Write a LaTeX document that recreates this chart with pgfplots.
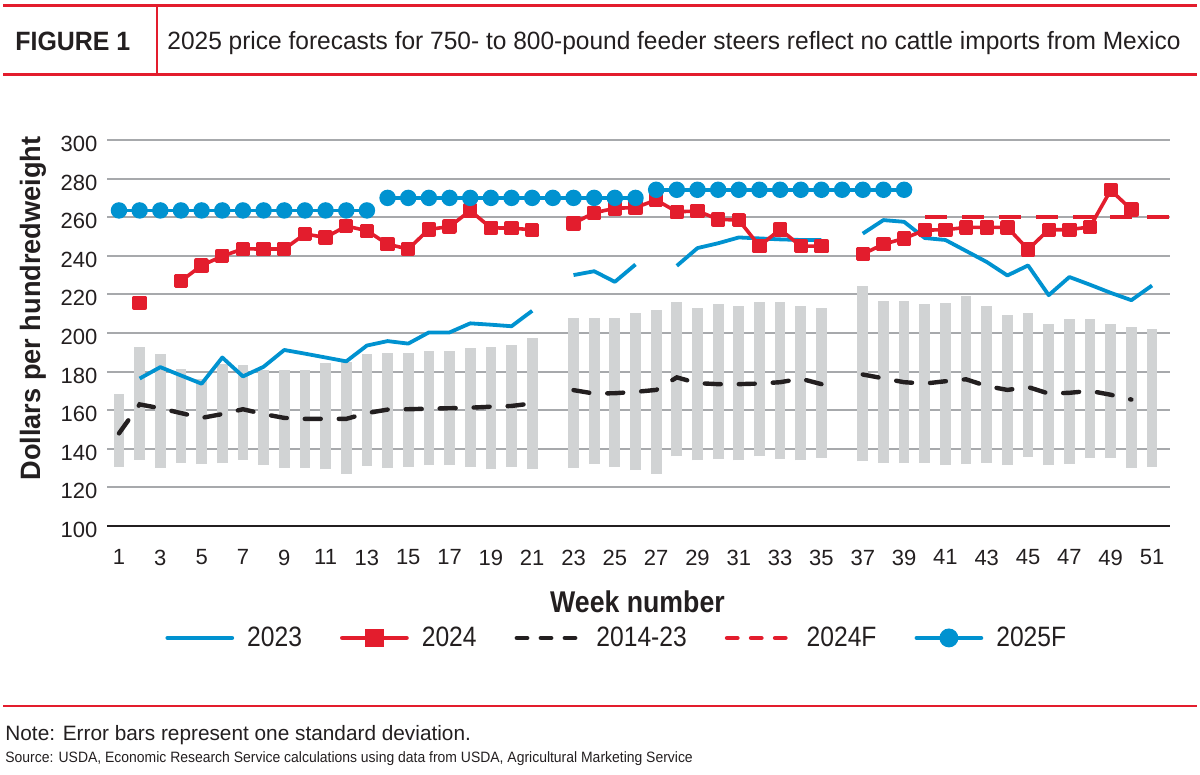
\documentclass[border=0pt]{standalone}
\usepackage{pgfplots}
\usepackage{pgfplotstable}
\pgfplotsset{compat=1.18}
\usepackage{fontspec}
\setmainfont{Liberation Sans}
\newfontfamily\legfont[FakeStretch=0.88]{Liberation Sans}
\newfontfamily\boldcondY[FakeStretch=0.97]{Liberation Sans Bold}
\newfontfamily\boldcondX[FakeStretch=0.89]{Liberation Sans Bold}
\newfontfamily\figfont[FakeStretch=0.94]{Liberation Sans Bold}
\newfontfamily\titlefont[FakeStretch=0.98]{Liberation Sans}
\newfontfamily\srcfont[FakeStretch=0.93]{Liberation Sans}

\definecolor{cblue}{HTML}{0092D0}
\definecolor{cred}{HTML}{E31D2D}
\definecolor{cgray}{HTML}{D1D3D4}
\definecolor{cgrid}{HTML}{A7A9AC}
\definecolor{ctext}{HTML}{231F20}

% error bars: week, low, high
\pgfplotstableread{
w lo hi
1 130.6 168.6
2 134.4 192.5
3 130.3 189.0
4 132.8 181.6
5 132.0 176.0
6 132.5 184.0
7 134.2 183.3
8 131.7 180.7
9 130.3 180.7
10 130.3 180.7
11 129.3 184.2
12 127.1 185.0
13 131.1 189.0
14 130.1 189.7
15 130.6 189.7
16 131.5 190.7
17 131.5 190.7
18 130.6 192.0
19 129.4 192.8
20 130.6 194.0
21 129.4 197.5
23 130.1 208.0
24 132.0 208.0
25 130.6 208.0
26 128.9 210.5
27 127.1 211.8
28 136.1 216.0
29 134.0 213.2
30 134.6 214.8
31 134.0 214.1
32 136.1 216.0
33 134.6 216.0
34 134.0 214.1
35 135.4 212.7
37 133.5 224.3
38 132.8 216.5
39 132.6 216.5
40 132.8 214.9
41 131.5 215.7
42 132.0 219.2
43 132.7 213.9
44 131.5 209.2
45 135.8 210.1
46 131.5 204.9
47 132.3 207.0
48 135.0 207.0
49 135.0 204.9
50 130.1 203.2
51 130.6 202.3
}\bars

\pgfplotstableread{
w v
1 148.0
2 163.0
3 161.0
4 158.5
5 156.0
6 158.0
7 160.5
8 158.0
9 156.0
10 155.5
11 155.5
12 155.5
13 158.5
14 160.3
15 160.5
16 160.8
17 161.0
18 161.3
19 161.8
20 162.2
21 163.5
22 nan
23 170.4
24 168.6
25 168.8
26 169.5
27 170.5
28 177.0
29 174.0
30 173.5
31 173.5
32 173.8
33 174.5
34 176.3
35 173.5
36 nan
37 178.5
38 176.5
39 174.5
40 173.8
41 175.0
42 176.0
43 172.5
44 170.5
45 172.0
46 168.6
47 169.0
48 170.0
49 168.0
50 165.5
}\avg

\pgfplotstableread{
w v
2 176.4
3 182.3
4 178.0
5 173.7
6 187.3
7 177.5
8 182.5
9 191.2
10 189.3
11 187.3
12 185.3
13 193.5
14 195.8
15 194.5
16 200.3
17 200.3
18 205.0
19 204.3
20 203.5
21 211.5
22 nan
23 230.0
24 232.0
25 226.5
26 235.5
27 nan
28 234.8
29 244.0
30 246.5
31 249.5
32 249.0
33 248.5
34 248.2
35 248.2
36 nan
37 251.5
38 258.5
39 257.6
40 249.2
41 248.2
42 242.5
43 236.8
44 229.8
45 235.0
46 219.6
47 229.0
48 225.0
49 220.8
50 217.0
51 224.6
}\yrA

\pgfplotstableread{
w v
2 215.6
3 nan
4 226.9
5 235.0
6 239.8
7 243.6
8 243.5
9 243.5
10 251.3
11 249.5
12 255.4
13 253.0
14 246.0
15 243.5
16 253.7
17 255.1
18 263.4
19 254.5
20 254.3
21 253.5
22 nan
23 256.8
24 262.3
25 264.6
26 265.0
27 268.9
28 262.8
29 263.2
30 258.9
31 258.5
32 245.0
33 253.7
34 245.0
35 245.0
36 nan
37 240.9
38 246.0
39 249.0
40 253.3
41 253.5
42 254.7
43 254.7
44 254.7
45 243.3
46 253.5
47 253.5
48 255.0
49 274.0
50 264.0
}\yrB

\pgfplotstableread{
w v
40 260
52 260
}\fcB

\pgfplotstableread{
w v
1 263.5
2 263.5
3 263.5
4 263.5
5 263.5
6 263.5
7 263.5
8 263.5
9 263.5
10 263.5
11 263.5
12 263.5
13 263.5
13.5 nan
14 270.0
15 270.0
16 270.0
17 270.0
18 270.0
19 270.0
20 270.0
21 270.0
22 270.0
23 270.0
24 270.0
25 270.0
26 270.0
26.5 nan
27 274.2
28 274.2
29 274.2
30 274.2
31 274.2
32 274.2
33 274.2
34 274.2
35 274.2
36 274.2
37 274.2
38 274.2
39 274.2
}\fcC

\begin{document}
\begin{tikzpicture}
\path[use as bounding box] (0,0) rectangle (600pt,387.5pt);
% header
\draw[cred, line width=1.5pt] (1.5pt,384.5pt) -- (598.5pt,384.5pt);
\draw[cred, line width=1.5pt] (1.5pt,350pt) -- (598.5pt,350pt);
\draw[cred, line width=0.6pt] (78.5pt,384.5pt) -- (78.5pt,350pt);
\node[anchor=base west, inner sep=0pt, text=ctext] at (7.5pt,362pt) {\figfont\fontsize{13.25}{15}\selectfont FIGURE 1};
\node[anchor=base west, inner sep=0pt, text=ctext] at (83.5pt,362.5pt) {\titlefont\fontsize{12.5}{15}\selectfont 2025 price forecasts for 750- to 800-pound feeder steers reflect no cattle imports from Mexico};

\begin{axis}[
  at={(53.5pt,124.5pt)}, anchor=south west,
  scale only axis, width=531.5pt, height=193pt,
  xmin=0.42, xmax=51.87, ymin=100, ymax=300,
  xtick={1,3,...,51}, ytick={100,120,...,300},
  axis x line*=bottom, axis y line*=left,
  x axis line style={draw=ctext, line width=1.4pt},
  y axis line style={draw=none},
  major tick length=0pt,
  ymajorgrids, grid style={draw=cgrid, line width=1pt},
  tick label style={font=\fontsize{11}{13}\selectfont, text=ctext},
  /pgf/number format/assume math mode=true,
  xticklabel style={yshift=-8.3pt},
  yticklabel style={xshift=-1.3pt, yshift=-2pt},
  unbounded coords=jump,
  legend columns=5,
  legend style={at={(0.05456,-0.290)}, anchor=west, draw=none, fill=none,
    inner sep=0pt, nodes={inner sep=1pt},
    font=\legfont\fontsize{14}{16}\selectfont, text=ctext,
    /tikz/every odd column/.append style={column sep=5.5pt},
    /tikz/every even column/.append style={column sep=18pt}},
  legend cell align=left,
  legend image code/.code={\draw[mark repeat=2, mark phase=2, #1] plot coordinates {(0pt,0pt) (16pt,0pt) (32pt,0pt)};},
]
% legend entries (in reference order)
\addlegendimage{cblue, line width=2.4pt, line cap=round, mark=none}
\addlegendentry{2023}
\addlegendimage{cred, line width=2.4pt, line cap=round, mark=square*, mark size=3.4pt, mark options={draw=none, fill=cred}}
\addlegendentry{2024}
\addlegendimage{ctext, line width=2.4pt, line cap=round, dash pattern=on 5pt off 7pt, mark=none}
\addlegendentry{2014-23}
\addlegendimage{cred, line width=2.4pt, line cap=round, dash pattern=on 5pt off 7pt, mark=none}
\addlegendentry{2024F}
\addlegendimage{cblue, line width=2.4pt, line cap=round, mark=*, mark size=3.5pt, mark options={draw=none, fill=cblue}}
\addlegendentry{2025F}

% standard deviation bars
\addplot[draw=none, no markers, forget plot,
  error bars/.cd, y dir=plus, y explicit, error mark=none,
  error bar style={draw=cgray, line width=5.35pt}]
  table[x=w, y=lo, y error expr=\thisrow{hi}-\thisrow{lo}] {\bars};

% 2014-23 average
\addplot[forget plot, ctext, line width=2.2pt, line cap=round, dash pattern=on 8pt off 9pt, mark=none]
  table[x=w, y=v] {\avg};
% 2023
\addplot[forget plot, cblue, line width=1.9pt, line join=round, mark=none]
  table[x=w, y=v] {\yrA};
% 2024F
\addplot[forget plot, cred, line width=1.8pt, dash pattern=on 11pt off 7.5pt, mark=none]
  table[x=w, y=v] {\fcB};
% 2024
\addplot[forget plot, cred, line width=1.8pt, line join=round, mark=square*, mark size=2.7pt, mark options={draw=none, fill=cred}]
  table[x=w, y=v] {\yrB};
% 2025F
\addplot[forget plot, cblue, line width=1.8pt, mark=*, mark size=3.2pt, mark options={draw=none, fill=cblue}]
  table[x=w, y=v] {\fcC};
\end{axis}

\node[rotate=90, text=ctext, inner sep=0pt] at (16.5pt,233.25pt) {\boldcondY\fontsize{14}{16}\selectfont Dollars per hundredweight};
\node[anchor=base, text=ctext, inner sep=0pt] at (318.75pt,81pt) {\boldcondX\fontsize{15}{17}\selectfont Week number};

\draw[cred, line width=1.2pt] (1.5pt,34.5pt) -- (598.5pt,34.5pt);
\node[anchor=base west, inner sep=0pt, text=ctext] at (2.5pt,17pt) {\fontsize{10.4}{12}\selectfont Note: Error bars represent one standard deviation.};
\node[anchor=base west, inner sep=0pt, text=ctext] at (2.5pt,6pt) {\srcfont\fontsize{7.5}{9}\selectfont Source: USDA, Economic Research Service calculations using data from USDA, Agricultural Marketing Service};
\end{tikzpicture}
\end{document}
